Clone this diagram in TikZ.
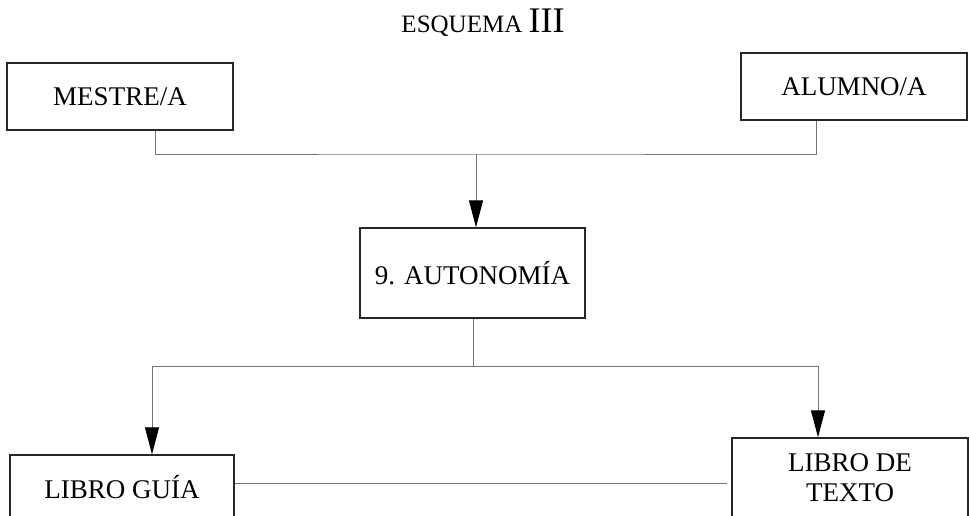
\documentclass[tikz,border=0pt]{standalone}
\usepackage{fontspec}
\setmainfont{Liberation Serif}
\usetikzlibrary{arrows.meta}

\tikzset{
  box/.style={draw=black!85, line width=1.4pt, inner sep=0pt, align=center,
    font=\fontsize{27}{30}\selectfont},
  conn/.style={draw=black!55, line width=1pt},
  arr/.style={conn, -{Triangle[length=27pt,width=14pt,color=black]}},
}

\begin{document}
\begin{tikzpicture}[x=1pt,y=-1pt]
\useasboundingbox (0,0) rectangle (969,515);
\clip (0,0) rectangle (969,515);

% Title
\node[anchor=base] (title) at (483,32)
  {\fontsize{25}{28}\selectfont ESQUEMA \fontsize{36}{38}\selectfont III};

% Boxes
\node[box, minimum width=226pt, minimum height=67pt] (mestre) at (120,96.5) {MESTRE/A};
\node[box, minimum width=226pt, minimum height=67pt] (alumno) at (854,86.5) {ALUMNO/A};
\node[box, minimum width=225pt, minimum height=90pt] (autonomia) at (472.5,273) {9. AUTONOMÍA};
\node[box, minimum width=224pt, minimum height=64pt] (guia) at (122,487) {LIBRO GUÍA};
\node[box, minimum width=236pt, minimum height=80pt] (texto) at (850,478) {LIBRO DE\\TEXTO};

% Join points
\coordinate (meet) at (476,154);
\coordinate (split) at (473,366);
\coordinate (gap) at (727,483);

% Connectors
\draw[conn] ([xshift=35pt]mestre.south) |- (meet) -| ([xshift=-38pt]alumno.south);
\draw[arr] (meet) -- (meet |- autonomia.north);
\draw[conn] (autonomia.south -| split) -- (split);
\draw[arr] (split) -| ([xshift=30pt]guia.north);
\draw[arr] (split) -| ([xshift=-32pt]texto.north);
\draw[conn] (guia.east |- gap) -- (gap);

\end{tikzpicture}
\end{document}
